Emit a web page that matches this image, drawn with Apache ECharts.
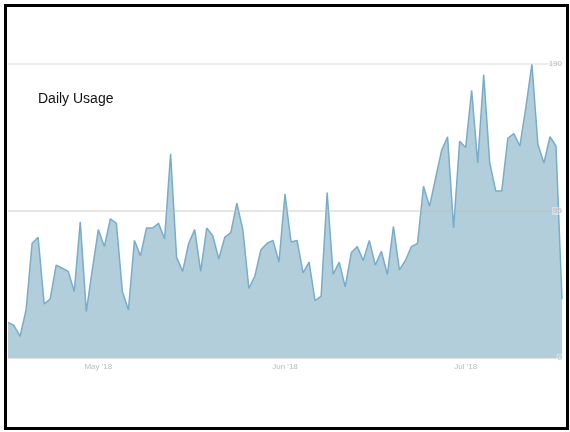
<!DOCTYPE html>
<html>
<head>
<meta charset="utf-8">
<script src="https://cdn.jsdelivr.net/npm/echarts@6/dist/echarts.min.js"></script>
<style>
  html, body { margin: 0; padding: 0; background: #fff; }
  #main { width: 570px; height: 432px; }
</style>
</head>
<body>
<div id="main"></div>
<script>
// daily usage, 16 Apr 2018 .. 17 Jul 2018
var startDate = '2018-04-16';
var usage = [
  23, 21, 14, 31, 74, 78, 35, 38, 60, 58,
  56, 43, 88, 30, 57, 83, 72, 90, 87, 43,
  31, 76, 66, 84, 84, 87, 77, 132, 65, 56,
  74, 83, 56, 84, 79, 64, 78, 81, 100, 83,
  45, 53, 70, 74, 76, 62, 106, 75, 76, 55,
  62, 37, 40, 107, 54, 62, 46, 68, 72, 63,
  76, 60, 69, 54, 85, 57, 63, 72, 74, 111,
  98, 116, 134, 143, 84, 140, 136, 173, 126, 183,
  126, 108, 108, 142, 145, 137, 162, 190, 138, 126,
  143, 137, 38
];
var yTicks = [0, 95, 190];
var monthNames = ['Jan','Feb','Mar','Apr','May','Jun','Jul','Aug','Sep','Oct','Nov','Dec'];

// category labels, one per day
var days = [];
var d0 = new Date(startDate + 'T00:00:00Z');
for (var i = 0; i < usage.length; i++) {
  var d = new Date(d0.getTime() + i * 86400000);
  days.push(d.toISOString().slice(0, 10));
}

var myChart = echarts.init(document.getElementById('main'));
var option = {
  animation: false,
  title: {
    text: 'Daily Usage',
    left: 38,
    top: 92,
    padding: 0,
    textStyle: {
      fontFamily: 'Liberation Sans, Arial, sans-serif',
      fontSize: 14,
      fontWeight: 'normal',
      color: '#111'
    }
  },
  grid: { left: 8, right: 8, top: 64, bottom: 74 },
  xAxis: {
    type: 'category',
    data: days,
    boundaryGap: false,
    z: 5,
    axisLine: { lineStyle: { color: '#dde3e6', width: 1 } },
    axisTick: { show: false },
    axisLabel: {
      color: '#bbb',
      fontSize: 8,
      margin: 5,
      fontFamily: 'Liberation Sans, Arial, sans-serif',
      interval: function (idx, val) { return val.slice(8) === '01'; },
      formatter: function (val) {
        return monthNames[parseInt(val.slice(5, 7), 10) - 1] + " '" + val.slice(2, 4);
      }
    }
  },
  yAxis: {
    type: 'value',
    position: 'right',
    min: yTicks[0],
    max: yTicks[2],
    interval: yTicks[1] - yTicks[0],
    z: 5,
    axisLine: { show: false },
    axisTick: { show: false },
    splitLine: { lineStyle: { color: ['rgba(200,200,200,0.5)', 'rgba(190,190,190,0.5)', 'rgba(215,215,215,0.6)'], width: 1.5 } },
    axisLabel: {
      inside: true,
      margin: 0,
      color: '#b8b8b8',
      fontSize: 8,
      backgroundColor: 'rgba(255,255,255,0.4)',
      padding: [0, 0, 0, 1],
      fontFamily: 'Liberation Sans, Arial, sans-serif'
    }
  },
  series: [{
    name: 'Daily Usage',
    type: 'line',
    data: usage,
    showSymbol: false,
    lineStyle: { color: '#78accb', width: 1.5 },
    areaStyle: { color: '#b2cedb', opacity: 1 }
  }],
  graphic: [{
    type: 'rect',
    shape: { x: 5.5, y: 5.5, width: 562, height: 423 },
    style: { fill: 'none', stroke: '#000', lineWidth: 3 },
    silent: true
  }]
};
myChart.setOption(option);
</script>
</body>
</html>
